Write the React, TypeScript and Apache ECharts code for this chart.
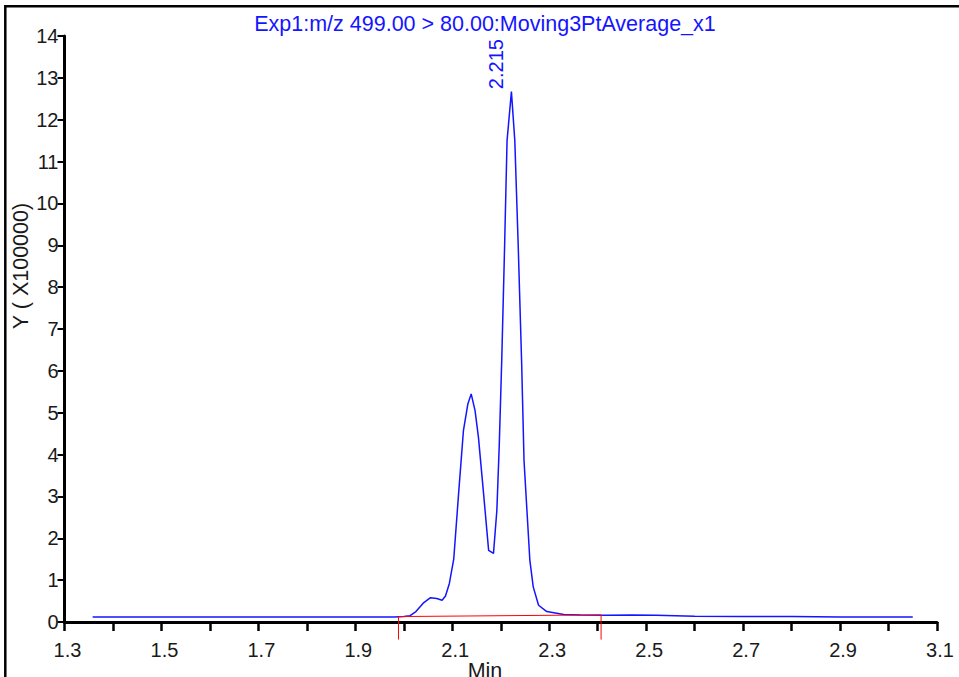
import React, { useEffect, useRef } from "react";
import * as echarts from "echarts";

// Retention time (min)
const times = [
  1.358, 1.5, 1.7, 1.9, 1.98, 2.0, 2.013, 2.025, 2.04, 2.055, 2.068, 2.079,
  2.086, 2.094, 2.103, 2.113, 2.123, 2.132, 2.139, 2.147, 2.154, 2.164, 2.175,
  2.185, 2.192, 2.197, 2.202, 2.208, 2.213, 2.222, 2.229, 2.236, 2.243, 2.248,
  2.254, 2.26, 2.267, 2.278, 2.295, 2.33, 2.364, 2.42, 2.47, 2.52, 2.6, 2.7,
  2.8, 2.9, 3.05,
];
// Intensity (x100000)
const intensity = [
  0.12, 0.12, 0.12, 0.12, 0.12, 0.13, 0.15, 0.25, 0.45, 0.58, 0.56, 0.52,
  0.62, 0.92, 1.5, 3.06, 4.57, 5.2, 5.45, 5.05, 4.41, 3.14, 1.71,
  1.64, 2.67, 4.25, 6.24, 9.0, 11.5, 12.67, 11.5, 9.0, 6.24, 3.86,
  2.67, 1.48, 0.84, 0.4, 0.25, 0.18, 0.17, 0.16, 0.17, 0.16, 0.14, 0.13,
  0.13, 0.12, 0.12,
];

// Integration baseline (red)
const baselineTimes = [1.989, 1.989, 2.407, 2.407];
const baselineValues = [-0.42, 0.13, 0.17, -0.42];

// Labelled peak
const peakTime = 2.222;
const peakValue = 12.67;
const peakLabel = "2.215";

// Axis tick labels
const xTickLabels = ["1.3", "1.5", "1.7", "1.9", "2.1", "2.3", "2.5", "2.7", "2.9", "3.1"];

const titleText = "Exp1:m/z 499.00 > 80.00:Moving3PtAverage_x1";
const yName = "Y ( X100000)";
const xName = "Min";

const FONT = "'Liberation Sans', Arial, sans-serif";
const BLUE = "#1414ff";
const TEXT = "#1a1a1a";

export default function App() {
  const ref = useRef<HTMLDivElement>(null);

  useEffect(() => {
    if (!ref.current) return;
    const chart = echarts.init(ref.current, null, { renderer: "svg" });
    chart.setOption({
      animation: false,
      backgroundColor: "#ffffff",
      grid: { left: 64.5, right: 22, top: 36, bottom: 55, containLabel: false },
      xAxis: {
        type: "value",
        min: 1.3,
        max: 3.1,
        interval: 0.1,
        axisLine: { show: true, onZero: false, lineStyle: { color: "#000", width: 3 } },
        axisTick: { show: true, inside: false, length: 9, lineStyle: { color: "#000", width: 2.5 } },
        axisLabel: {
          show: true,
          margin: 18,
          fontSize: 20,
          fontFamily: FONT,
          color: TEXT,
          padding: [0, 0, 0, 6],
          formatter: (v: number) => {
            const s = v.toFixed(1);
            return xTickLabels.includes(s) ? s : "";
          },
        },
        splitLine: { show: false },
      },
      yAxis: {
        type: "value",
        min: 0,
        max: 14,
        interval: 1,
        axisLine: { show: true, lineStyle: { color: "#000", width: 3 } },
        axisTick: { show: true, inside: false, length: 7, lineStyle: { color: "#000", width: 2 } },
        axisLabel: {
          show: true,
          margin: 6,
          fontSize: 20,
          fontFamily: FONT,
          color: TEXT,
          padding: [8, 0, 0, 0],
        },
        splitLine: { show: false },
      },
      series: [
        {
          type: "line",
          data: times.map((t, i) => [t, intensity[i]]),
          showSymbol: false,
          smooth: false,
          lineStyle: { color: BLUE, width: 1.5 },
          itemStyle: { color: BLUE },
          markPoint: {
            symbol: "circle",
            symbolSize: 1,
            itemStyle: { color: "rgba(0,0,0,0)" },
            data: [{ coord: [peakTime, peakValue], value: peakLabel }],
            label: {
              show: true,
              formatter: peakLabel,
              position: [-15, -2],
              rotate: 90,
              align: "left",
              verticalAlign: "middle",
              color: BLUE,
              fontSize: 20,
              fontFamily: FONT,
            },
          },
        },
        {
          type: "line",
          data: baselineTimes.map((t, i) => [t, baselineValues[i]]),
          showSymbol: false,
          clip: false,
          lineStyle: { color: "#ff0000", width: 1 },
          itemStyle: { color: "#ff0000" },
          z: 3,
        },
      ],
      graphic: [
        {
          type: "rect",
          shape: { x: 5.3, y: 6.2, width: 1200, height: 1200 },
          style: { fill: "none", stroke: "#000", lineWidth: 2.5 },
          silent: true,
        },
        {
          type: "text",
          x: 485,
          y: 24,
          style: {
            text: titleText,
            fill: BLUE,
            fontSize: 21.5,
            fontFamily: FONT,
            align: "center",
            verticalAlign: "middle",
          },
        },
        {
          type: "text",
          x: 21,
          y: 266,
          rotation: Math.PI / 2,
          style: {
            text: yName,
            fill: TEXT,
            fontSize: 21.5,
            fontFamily: FONT,
            align: "center",
            verticalAlign: "middle",
          },
        },
        {
          type: "text",
          x: 485,
          y: 660,
          style: {
            text: xName,
            fill: TEXT,
            fontSize: 21.5,
            fontFamily: FONT,
            align: "center",
            verticalAlign: "top",
          },
        },
      ],
    });
    return () => chart.dispose();
  }, []);

  return (
    <div
      ref={ref}
      style={{ position: "fixed", left: 0, top: 0, width: 959, height: 677, background: "#fff" }}
    />
  );
}
